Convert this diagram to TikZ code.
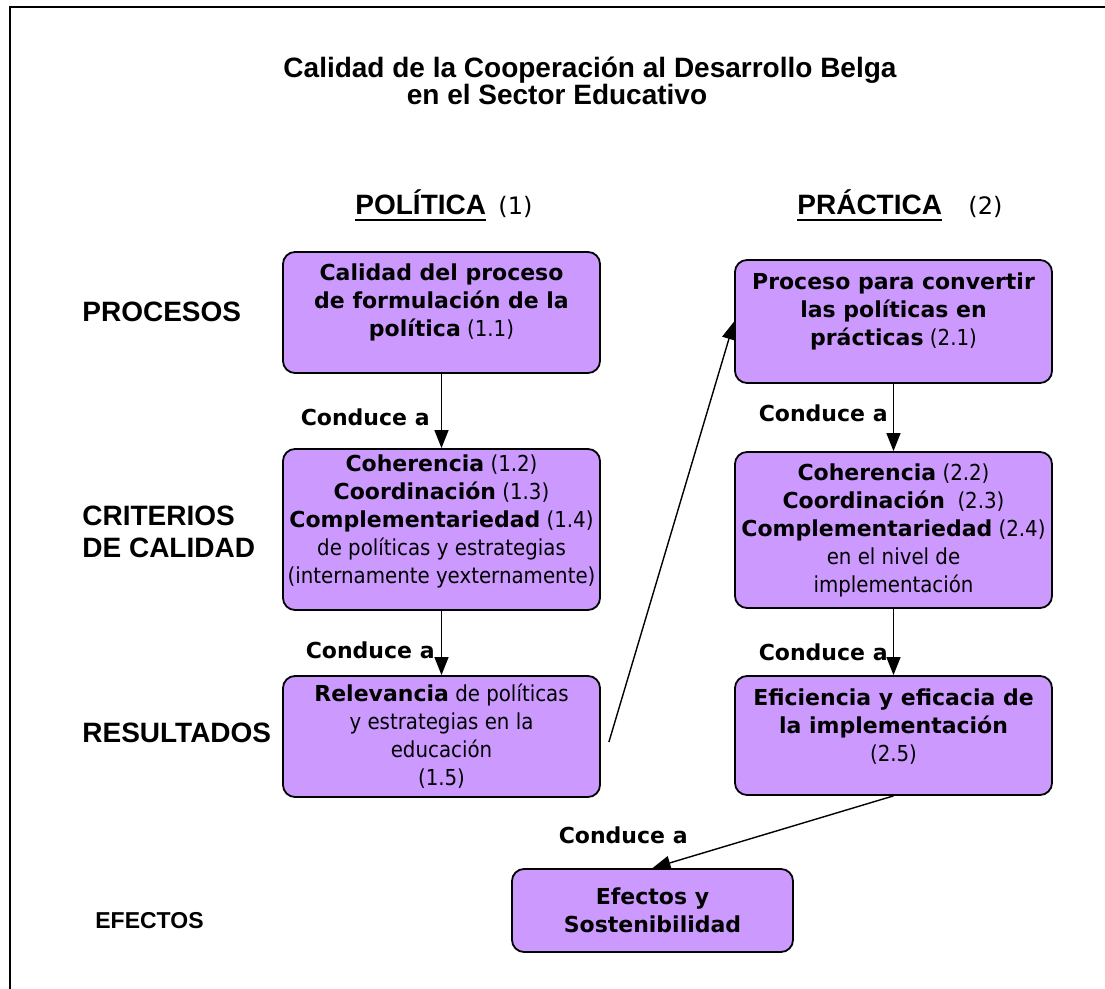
\documentclass[tikz,border=0pt]{standalone}
\usepackage{fontspec}
\usetikzlibrary{arrows.meta}
\newfontfamily\vfont{DejaVu Sans}
\newfontfamily\vcond{DejaVu Sans}[FakeStretch=0.9]
\newfontfamily\afont{Liberation Sans}
\newcommand{\bb}[1]{{\vfont\bfseries #1}}
\newcommand{\ul}[1]{\setbox0\hbox{#1}\rlap{\rule[-3pt]{\wd0}{1pt}}\box0}
\newcommand{\lift}[1]{\\[#1]\mbox{}}
\definecolor{lila}{RGB}{204,153,255}

\begin{document}
\begin{tikzpicture}[x=0.5pt,y=-0.5pt,
  box/.style={draw,line width=0.9pt,fill=lila,rounded corners=6pt,align=center,
    inner xsep=0pt,inner ysep=1pt,minimum width=158.5pt,
    font=\vcond\fontsize{11}{14}\selectfont},
  head/.style={font=\afont\bfseries\fontsize{14}{16}\selectfont,inner sep=0pt},
  lead/.style={font=\vfont\bfseries\fontsize{11}{13}\selectfont,inner sep=0pt},
  arr/.style={-{Triangle[length=9pt,width=7pt]},line width=0.7pt}]
  \useasboundingbox (0,0) rectangle (1105,989);
  \draw[line width=1pt] (10,989) -- (10,7) -- (1105,7);

  \node[head,anchor=base] (title) at (590,78) {Calidad de la Cooperación al Desarrollo Belga};
  \node[head,anchor=base] (subtitle) at (557,105) {en el Sector Educativo};

  \node[head,anchor=base west] (pol) at (355,215) {\ul{POLÍTICA}};
  \node[anchor=base west,inner sep=0pt,font=\vfont\fontsize{12}{14}\selectfont] (pol1) at (498,215) {(1)};
  \node[head,anchor=base west] (pra) at (797,215) {\ul{PRÁCTICA}};
  \node[anchor=base west,inner sep=0pt,font=\vfont\fontsize{12}{14}\selectfont] (pra2) at (968,215) {(2)};

  \node[head,anchor=base west] (procesos) at (82,322) {PROCESOS};
  \node[head,anchor=west,align=left] (criterios) at (82,532) {CRITERIOS\\DE CALIDAD};
  \node[head,anchor=base west] (resultados) at (82,743) {RESULTADOS};
  \node[head,anchor=base west,font=\afont\bfseries\fontsize{11.5}{13}\selectfont] (efectos) at (95,929) {EFECTOS};

  \node[box,minimum height=60.5pt] (b11) at (441.5,312.5)
    {\bb{Calidad del proceso}\\ \bb{de formulación de la}\\ \bb{política} (1.1)\lift{-2pt}};
  \node[box,minimum height=80.5pt] (b12) at (441.5,529.5)
    {\bb{Coherencia} (1.2)\\ \bb{Coordinación} (1.3)\\ \bb{Complementariedad} (1.4)\\
     de políticas y estrategias\\ (internamente yexternamente)\lift{-4pt}};
  \node[box,minimum height=60.5pt] (b15) at (441.5,736.5)
    {\bb{Relevancia} de políticas\\ y estrategias en la\\ educación\\ (1.5)};
  \node[box,minimum height=61.5pt] (b21) at (893.5,321.5)
    {\bb{Proceso para convertir}\\ \bb{las políticas en}\\ \bb{prácticas} (2.1)\lift{-2pt}};
  \node[box,minimum height=78pt] (b22) at (893.5,530)
    {\bb{Coherencia} (2.2)\\ \bb{Coordinación}\ \ (2.3)\\ \bb{Complementariedad} (2.4)\\
     en el nivel de\\ implementación};
  \node[box,minimum height=59.5pt] (b25) at (893.5,735.5)
    {\bb{Eficiencia y eficacia de}\\ \bb{la implementación}\\ (2.5)\lift{-4pt}};
  \node[box,minimum width=140.5pt,minimum height=41.5pt] (ef) at (652.5,910.5)
    {\bb{Efectos y}\\ \bb{Sostenibilidad}};

  \coordinate (rel) at ([xshift=4pt,yshift=-2.75pt]b15.east);
  \draw[arr] (b11.south) -- (b12.north);
  \draw[arr] (b12.south) -- (b15.north);
  \draw[arr] (rel) -- (b21.west);
  \draw[arr] (b21.south) -- (b22.north);
  \draw[arr] (b22.south) -- (b25.north);
  \draw[arr] (b25.south) -- (ef.north);

  \node[lead,anchor=east] (c1) at (430,417) {Conduce a};
  \node[lead,anchor=east] (c2) at (435,650) {Conduce a};
  \node[lead,anchor=east] (c3) at (888,413) {Conduce a};
  \node[lead,anchor=east] (c4) at (888,652) {Conduce a};
  \node[lead,anchor=east] (c5) at (688,835) {Conduce a};
\end{tikzpicture}
\end{document}
